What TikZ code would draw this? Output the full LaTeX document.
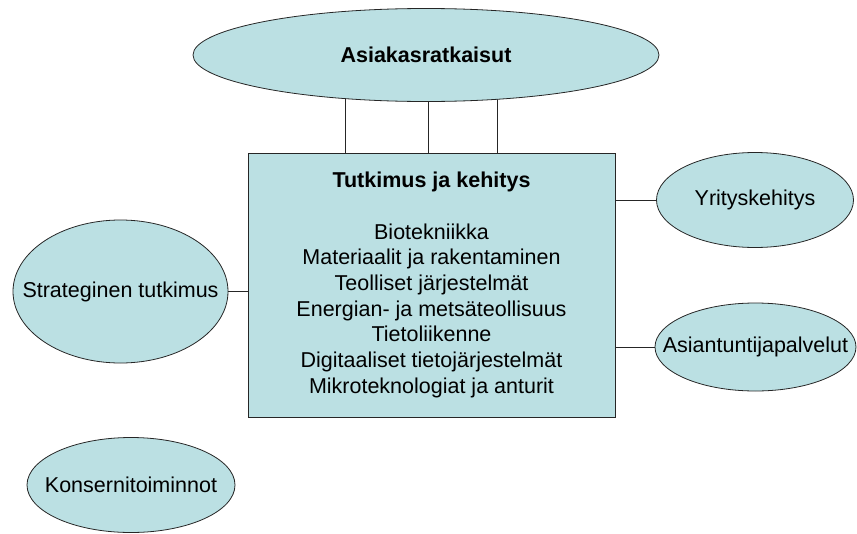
\documentclass[tikz,border=0pt]{standalone}
\usepackage{fontspec}
\setmainfont{Liberation Sans}
\usetikzlibrary{shapes.geometric,backgrounds}
\definecolor{vaalea}{RGB}{187,224,227}
\newcommand{\nolla}[1]{\makebox[0pt]{#1}}
\begin{document}
\begin{tikzpicture}[x=1pt,y=-1pt,
	font=\fontsize{21.5}{25.7}\selectfont,
	soikio/.style={ellipse,draw=black!85,fill=vaalea,line width=0.8pt,inner sep=0pt},
	laatikko/.style={rectangle,draw=black!85,fill=vaalea,line width=0.8pt,align=center,inner sep=0pt},
	viiva/.style={draw=black!85,line width=0.8pt}]
	\useasboundingbox (0,0) rectangle (857,533);
	\node[soikio,minimum width=466pt,minimum height=93pt] (as) at (426,55) {\nolla{\textbf{Asiakasratkaisut}}};
	\node[laatikko,minimum width=367pt,minimum height=264pt] (rd) at (431.5,285)
		{\textbf{Tutkimus ja kehitys}\\[25.7pt]
		Biotekniikka\\
		Materiaalit ja rakentaminen\\
		Teolliset järjestelmät\\
		Energian- ja metsäteollisuus\\
		Tietoliikenne\\
		Digitaaliset tietojärjestelmät\\
		Mikroteknologiat ja anturit};
	\node[soikio,minimum width=197pt,minimum height=95pt] (yr) at (755,200) {\nolla{Yrityskehitys}};
	\node[soikio,minimum width=201pt,minimum height=88pt] (ap) at (755.5,347) {\nolla{Asiantuntijapalvelut}};
	\node[soikio,minimum width=215pt,minimum height=143pt] (st) at (120.5,291.5) {\nolla{Strateginen tutkimus}};
	\node[soikio,minimum width=208pt,minimum height=95pt] (ko) at (131,485) {\nolla{Konsernitoiminnot}};
	% yhteydet
	\begin{scope}[on background layer]
	\foreach \dx in {-86.5,-3.5,65.5}
		\draw[viiva] ([xshift=\dx pt]rd.north) -- ([xshift=\dx pt]rd.north |- as.center);
	\end{scope}
	\draw[viiva] (rd.east |- yr.west) -- (yr.west);
	\draw[viiva] (rd.east |- ap.west) -- (ap.west);
	\draw[viiva] (st.east) -- (st.east -| rd.west);
\end{tikzpicture}
\end{document}
